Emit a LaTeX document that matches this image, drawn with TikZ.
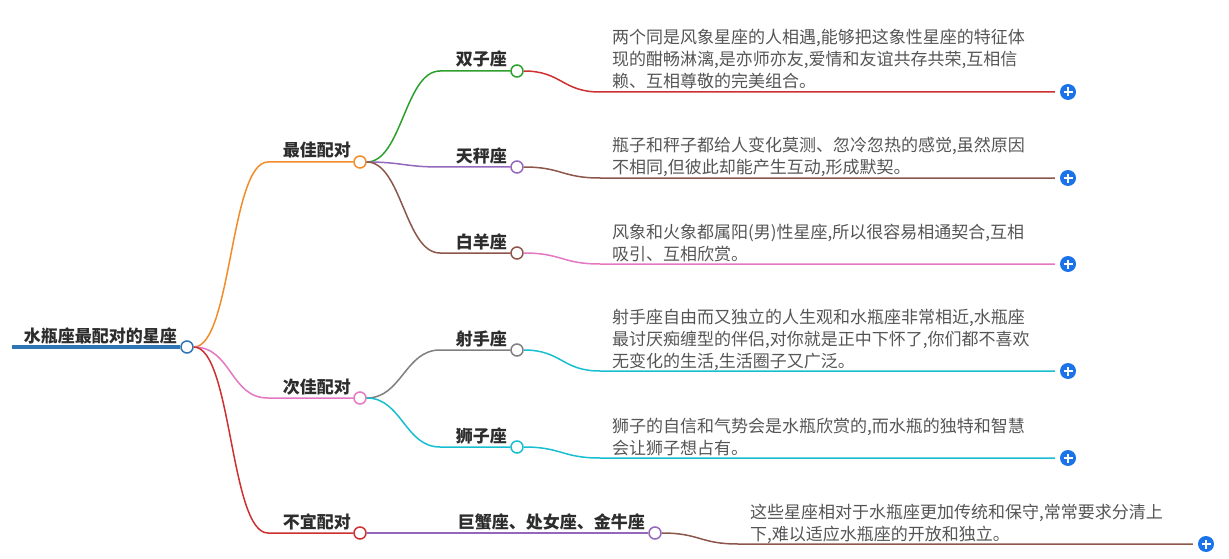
\documentclass[tikz,border=0pt]{standalone}
\usepackage{fontspec}
\newfontfamily\cjk{Noto Sans CJK SC}
\usetikzlibrary{positioning}
\definecolor{rootblue}{RGB}{46,117,182}
\definecolor{brorange}{RGB}{242,140,40}
\definecolor{brpink}{RGB}{227,119,194}
\definecolor{brred}{RGB}{204,48,48}
\definecolor{brgreen}{RGB}{44,160,44}
\definecolor{brpurple}{RGB}{148,103,189}
\definecolor{brbrown}{RGB}{140,86,75}
\definecolor{brgrey}{RGB}{127,127,127}
\definecolor{brcyan}{RGB}{23,190,207}
\definecolor{plusblue}{RGB}{26,115,232}
\definecolor{lbltext}{RGB}{45,45,45}
\definecolor{desctext}{RGB}{85,85,85}

\begin{document}
\begin{tikzpicture}[x=1pt, y=-1pt]
    \tikzset{
        dot/.style={
            circle, draw=#1, fill=white, line width=1.5pt,
            minimum size=12pt, inner sep=0pt
        },
        branch/.style={draw=#1, line width=1.5pt},
        lbl/.style={
            anchor=base east, inner sep=0pt, text=lbltext,
            font=\cjk\fontsize{17}{22}\selectfont\bfseries
        },
        desc/.style={
            anchor=base west, inner sep=0pt, align=left, text=desctext,
            font=\cjk\fontsize{17}{22}\selectfont
        },
        addbtn/.style={
            circle, fill=plusblue, minimum size=16pt, inner sep=0pt,
            path picture={
                \draw[white, line width=1.8pt]
                    ([xshift=-4.5pt]path picture bounding box.center) --
                    ([xshift=4.5pt]path picture bounding box.center)
                    ([yshift=-4.5pt]path picture bounding box.center) --
                    ([yshift=4.5pt]path picture bounding box.center);
            }
        },
    }
    \useasboundingbox (0,0) rectangle (1229,559);

    % ==== Root ====
    \node[dot=rootblue] (r0) at (187,347) {};
    \node[lbl] (r0t) at (177,342) {水瓶座最配对的星座};
    \coordinate (r0s) at (12,347);
    \draw[rootblue, line width=4pt] (r0s) -- (r0.west);

    % ==== First level ====
    \node[dot=brorange] (b1) at (360,162) {};
    \node[lbl] (b1t) at (351,157) {最佳配对};
    \coordinate (b1s) at (268,162);
    \draw[branch=brorange] (r0.east) .. controls +(38,0) and +(-38,0) .. (b1s) -- (b1.west);

    \node[dot=brpink] (b2) at (360,398) {};
    \node[lbl] (b2t) at (351,393) {次佳配对};
    \coordinate (b2s) at (268,398);
    \draw[branch=brpink] (r0.east) .. controls +(38,0) and +(-38,0) .. (b2s) -- (b2.west);

    \node[dot=brred] (b3) at (360,533) {};
    \node[lbl] (b3t) at (351,528) {不宜配对};
    \coordinate (b3s) at (268,533);
    \draw[branch=brred] (r0.east) .. controls +(38,0) and +(-38,0) .. (b3s) -- (b3.west);

    % ==== Second level ====
    \node[dot=brgreen] (c1) at (517,71) {};
    \node[lbl] (c1t) at (507,66) {双子座};
    \coordinate (c1s) at (440,71);
    \draw[branch=brgreen] (b1.east) .. controls +(35,0) and +(-35,0) .. (c1s) -- (c1.west);

    \node[dot=brpurple] (c2) at (517,167) {};
    \node[lbl] (c2t) at (507,162) {天秤座};
    \coordinate (c2s) at (440,167);
    \draw[branch=brpurple] (b1.east) .. controls +(35,0) and +(-35,0) .. (c2s) -- (c2.west);

    \node[dot=brbrown] (c3) at (517,253) {};
    \node[lbl] (c3t) at (507,248) {白羊座};
    \coordinate (c3s) at (440,253);
    \draw[branch=brbrown] (b1.east) .. controls +(35,0) and +(-35,0) .. (c3s) -- (c3.west);

    \node[dot=brgrey] (c4) at (517,350) {};
    \node[lbl] (c4t) at (507,345) {射手座};
    \coordinate (c4s) at (440,350);
    \draw[branch=brgrey] (b2.east) .. controls +(35,0) and +(-35,0) .. (c4s) -- (c4.west);

    \node[dot=brcyan] (c5) at (517,447) {};
    \node[lbl] (c5t) at (507,442) {狮子座};
    \coordinate (c5s) at (440,447);
    \draw[branch=brcyan] (b2.east) .. controls +(35,0) and +(-35,0) .. (c5s) -- (c5.west);

    \node[dot=brpurple] (c6) at (655,533) {};
    \node[lbl] (c6t) at (645,528) {巨蟹座、处女座、金牛座};
    \draw[branch=brpurple] (b3.east) -- (c6.west);

    % ==== Descriptions ====
    \node[addbtn] (p1) at (1068,92) {};
    \coordinate (d1s) at (600,92);
    \draw[branch=brred, shorten >=5pt] (c1.east) .. controls +(38,0) and +(-38,0) .. (d1s) -- (p1.west);
    \node[desc] (t1) at (612,88) {两个同是风象星座的人相遇,能够把这象性星座的特征体\\现的酣畅淋漓,是亦师亦友,爱情和友谊共存共荣,互相信\\赖、互相尊敬的完美组合。};

    \node[addbtn] (p2) at (1068,178) {};
    \coordinate (d2s) at (600,178);
    \draw[branch=brbrown, shorten >=5pt] (c2.east) .. controls +(38,0) and +(-38,0) .. (d2s) -- (p2.west);
    \node[desc] (t2) at (612,174) {瓶子和秤子都给人变化莫测、忽冷忽热的感觉,虽然原因\\不相同,但彼此却能产生互动,形成默契。};

    \node[addbtn] (p3) at (1068,264) {};
    \coordinate (d3s) at (600,264);
    \draw[branch=brpink, shorten >=5pt] (c3.east) .. controls +(38,0) and +(-38,0) .. (d3s) -- (p3.west);
    \node[desc] (t3) at (612,260) {风象和火象都属阳(男)性星座,所以很容易相通契合,互相\\吸引、互相欣赏。};

    \node[addbtn] (p4) at (1068,371) {};
    \coordinate (d4s) at (600,371);
    \draw[branch=brcyan, shorten >=5pt] (c4.east) .. controls +(38,0) and +(-38,0) .. (d4s) -- (p4.west);
    \node[desc] (t4) at (612,367) {射手座自由而又独立的人生观和水瓶座非常相近,水瓶座\\最讨厌痴缠型的伴侣,对你就是正中下怀了,你们都不喜欢\\无变化的生活,生活圈子又广泛。};

    \node[addbtn] (p5) at (1068,458) {};
    \coordinate (d5s) at (600,458);
    \draw[branch=brcyan, shorten >=5pt] (c5.east) .. controls +(38,0) and +(-38,0) .. (d5s) -- (p5.west);
    \node[desc] (t5) at (612,454) {狮子的自信和气势会是水瓶欣赏的,而水瓶的独特和智慧\\会让狮子想占有。};

    \node[addbtn] (p6) at (1206,544) {};
    \coordinate (d6s) at (738,544);
    \draw[branch=brbrown, shorten >=5pt] (c6.east) .. controls +(38,0) and +(-38,0) .. (d6s) -- (p6.west);
    \node[desc] (t6) at (750,540) {这些星座相对于水瓶座更加传统和保守,常常要求分清上\\下,难以适应水瓶座的开放和独立。};

\end{tikzpicture}
\end{document}
